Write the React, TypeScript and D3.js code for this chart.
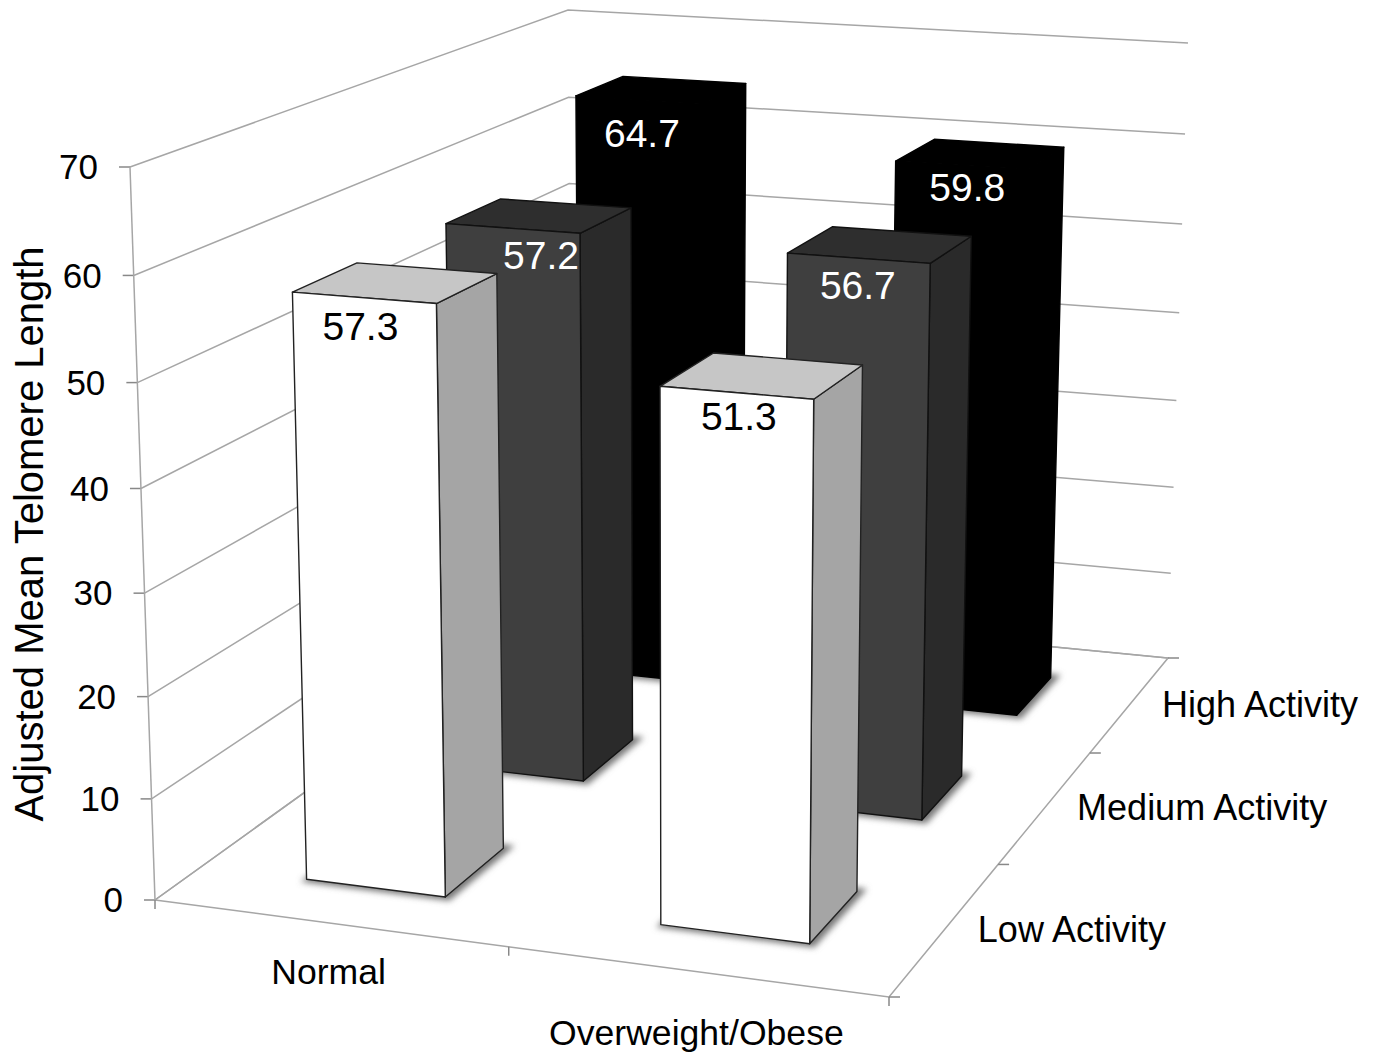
import React from "react";
import * as d3 from "d3";

const weightCategories = ["Normal", "Overweight/Obese"];
const activityCategories = ["Low Activity", "Medium Activity", "High Activity"];
const normalValues = [57.3, 57.2, 64.7];
const overweightValues = [51.3, 56.7, 59.8];
const valueTicks = [0, 10, 20, 30, 40, 50, 60, 70];

type P = [number, number];
const labelNudgeNormal: P[] = [[-4, 1], [28, -1], [3, 6]];
const labelNudgeOver: P[] = [[2, -4], [-1, -1], [5, -6]];
const floorCorners: P[] = [[155, 900], [889, 997], [1168, 658], [572, 600]];
const topCorners: P[] = [[130, 167], [898, 221], [1188, 43], [568, 10]];

function homography(c: P[]) {
  const [[x0, y0], [x1, y1], [x2, y2], [x3, y3]] = c;
  const dx1 = x1 - x2, dx2 = x3 - x2, sx = x0 - x1 + x2 - x3;
  const dy1 = y1 - y2, dy2 = y3 - y2, sy = y0 - y1 + y2 - y3;
  const det = dx1 * dy2 - dx2 * dy1;
  const g = (sx * dy2 - dx2 * sy) / det;
  const h = (dx1 * sy - sx * dy1) / det;
  const a = x1 - x0 + g * x1, b = x3 - x0 + h * x3;
  const d = y1 - y0 + g * y1, e = y3 - y0 + h * y3;
  return (u: number, v: number): P => {
    const w = g * u + h * v + 1;
    return [(a * u + b * v + x0) / w, (d * u + e * v + y0) / w];
  };
}
const floor = homography(floorCorners);
const ceiling = homography(topCorners);
const K = 0.04;
const heightScale = d3.scaleLinear().domain([0, 70]).range([0, 1]);
function pt(u: number, v: number, val: number): P {
  const h = heightScale(val);
  const s = (h * (1 - K)) / (1 - K * h);
  const f = floor(u, v), t = ceiling(u, v);
  return [f[0] + (t[0] - f[0]) * s, f[1] + (t[1] - f[1]) * s];
}
const uBand = d3.scaleBand<string>().domain(weightCategories).range([0.004, 1.004]).paddingInner(0.6).paddingOuter(0.3);
const vBand = d3.scaleBand<string>().domain(activityCategories).range([-0.008, 0.992]).paddingInner(0.6).paddingOuter(0.3);
const line = d3.line<P>();
const poly = (p: P[]) => line(p)! + "Z";

const palette = [
  { front: "#ffffff", top: "#c6c6c6", side: "#a5a5a5", stroke: "#222", text: "#000" },
  { front: "#3f3f3f", top: "#2e2e2e", side: "#2a2a2a", stroke: "#111", text: "#fff" },
  { front: "#000000", top: "#000000", side: "#000000", stroke: "#000", text: "#fff" },
];
const AXIS = "#a6a6a6";
const FONT = "'Liberation Sans', Arial, sans-serif";

function Bar({ wi, ai, val, nudge }: { wi: number; ai: number; val: number; nudge: P }) {
  const u0 = uBand(weightCategories[wi])!, u1 = u0 + uBand.bandwidth();
  const v0 = vBand(activityCategories[ai])!, v1 = v0 + vBand.bandwidth();
  const c = palette[ai];
  const base: P[] = [pt(u0, v0, 0), pt(u1, v0, 0), pt(u1, v1, 0), pt(u0, v1, 0)];
  const front: P[] = [pt(u0, v0, val), pt(u1, v0, val), pt(u1, v0, 0), pt(u0, v0, 0)];
  const side: P[] = [pt(u1, v0, val), pt(u1, v1, val), pt(u1, v1, 0), pt(u1, v0, 0)];
  const top: P[] = [pt(u0, v0, val), pt(u1, v0, val), pt(u1, v1, val), pt(u0, v1, val)];
  const shadow = base.map(([x, y]) => [x + 3, y] as P);
  const sw = 1.4;
  const lx = (front[0][0] + front[1][0]) / 2 + nudge[0];
  const ly = (front[0][1] + front[1][1]) / 2 + 31 + nudge[1];
  return (
    <g>
      <path d={poly(shadow)} fill="#777" stroke="#777" strokeWidth={7} filter="url(#soft)" />
      <path d={poly(side)} fill={c.side} stroke={c.stroke} strokeWidth={sw} strokeLinejoin="round" />
      <path d={poly(top)} fill={c.top} stroke={c.stroke} strokeWidth={sw} strokeLinejoin="round" />
      <path d={poly(front)} fill={c.front} stroke={c.stroke} strokeWidth={sw} strokeLinejoin="round" />
      <text x={lx} y={ly} textAnchor="middle" dominantBaseline="middle" fontSize={39} fontFamily={FONT} fill={c.text}>
        {val.toFixed(1)}
      </text>
    </g>
  );
}

export default function App() {
  const bars: { wi: number; ai: number; val: number; nudge: P }[] = [];
  [2, 1, 0].forEach((ai) => {
    bars.push({ wi: 0, ai, val: normalValues[ai], nudge: labelNudgeNormal[ai] });
    bars.push({ wi: 1, ai, val: overweightValues[ai], nudge: labelNudgeOver[ai] });
  });
  const xTickU = [0, 0.5, 1];
  const vTicks = [0, 1 / 3, 2 / 3, 1];
  const catOffset: P[] = [[-3, 51], [-2, 64]];
  const actOffset: P[] = [[128.5, 2], [158.5, 1], [131.5, 2]];
  return (
    <svg width={1376} height={1053} style={{ position: "absolute", left: 0, top: 0, background: "#fff" }}>
      <defs>
        <filter id="soft" x="-30%" y="-30%" width="160%" height="160%">
          <feGaussianBlur stdDeviation="3" />
        </filter>
      </defs>
      {valueTicks.map((t) => {
        const a = pt(0, 0, t), b = pt(0, 1, t), c = pt(1, 1, t);
        return (
          <g key={t}>
            <path d={line([a, b, c])!} fill="none" stroke={AXIS} strokeWidth={1.5} />
            <path d={line([a, [a[0] - 11, a[1]]])!} stroke="#888" strokeWidth={1.5} />
            <text x={a[0] - 32} y={a[1] + 3} textAnchor="end" dominantBaseline="middle" fontSize={35} fontFamily={FONT} fill="#000">
              {t}
            </text>
          </g>
        );
      })}
      <path d={line([pt(0, 0, 0), pt(0, 0, 70)])!} stroke={AXIS} strokeWidth={1.5} />
      <path d={poly([pt(0, 0, 0), pt(1, 0, 0), pt(1, 1, 0), pt(0, 1, 0)])} fill="none" stroke={AXIS} strokeWidth={1.5} />
      {xTickU.map((u) => {
        const a = pt(u, 0, 0);
        return <path key={u} d={line([a, [a[0], a[1] + 9]])!} stroke="#888" strokeWidth={1.5} />;
      })}
      {vTicks.map((v) => {
        const a = pt(1, v, 0);
        return <path key={v} d={line([a, [a[0] + 11, a[1]]])!} stroke="#888" strokeWidth={1.5} />;
      })}
      {bars.map((b) => (
        <Bar key={`${b.wi}-${b.ai}`} {...b} />
      ))}
      {weightCategories.map((c, i) => {
        const u = uBand(c)! + uBand.bandwidth() / 2;
        const a = pt(u, 0, 0);
        return (
          <text key={c} x={a[0] + catOffset[i][0]} y={a[1] + catOffset[i][1]} textAnchor="middle" dominantBaseline="middle" fontSize={35.6} fontFamily={FONT} fill="#000">
            {c}
          </text>
        );
      })}
      {activityCategories.map((c, i) => {
        const v = vBand(c)! + vBand.bandwidth() / 2;
        const a = pt(1, v, 0);
        return (
          <text key={c} x={a[0] + actOffset[i][0]} y={a[1] + actOffset[i][1]} textAnchor="middle" dominantBaseline="middle" fontSize={36} fontFamily={FONT} fill="#000">
            {c}
          </text>
        );
      })}
      <text transform="translate(32,534) rotate(-90)" textAnchor="middle" dominantBaseline="middle" fontSize={40} fontFamily={FONT} fill="#000">
        Adjusted Mean Telomere Length
      </text>
    </svg>
  );
}
